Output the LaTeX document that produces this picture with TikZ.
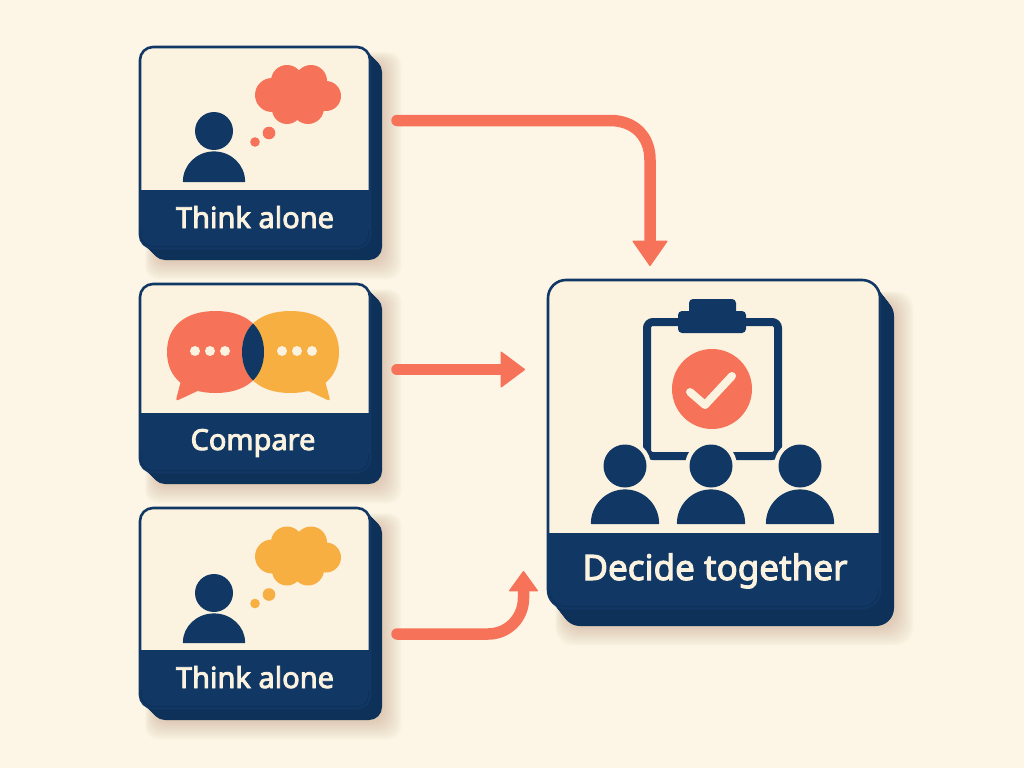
\documentclass[tikz,border=0pt]{standalone}
\usepackage{fontspec}
\setmainfont{Noto Sans}
\newfontfamily\labelfont{Noto Sans}[FakeBold=3]
\usetikzlibrary{arrows.meta,calc}
\definecolor{bgc}{HTML}{FDF5E6}
\definecolor{cream}{HTML}{FBF2E0}
\definecolor{navy}{HTML}{113864}
\definecolor{navyd}{HTML}{0E3159}
\definecolor{salmon}{HTML}{F6735A}
\definecolor{amber}{HTML}{F7AF42}
\definecolor{shadowc}{HTML}{B08F5C}
\tikzset{
  cardface/.style={draw=navy,line width=2.6pt,fill=cream,rounded corners=#1,inner sep=0pt,outer sep=0pt},
  cardlabel/.style={text=cream,inner sep=0pt,anchor=base},
  smalllabel/.style={cardlabel,font=\labelfont\fontsize{29}{33}\selectfont},
  biglabel/.style={cardlabel,font=\labelfont\fontsize{35}{40}\selectfont},
  flowarrow/.style={draw=salmon,line width=11.5pt,line cap=round},
  icon/.style={fill=navy,draw=navy,line width=1.2pt,line join=round},
}
% x1 y1 x2 y2 depth radius yfactor
\newcommand{\cardbody}[7]{%
  \foreach \s in {0,...,22}{
    \fill[shadowc,opacity=0.016,rounded corners=#6pt]
      ({#1+#5+4-\s*0.5},{#2+#5*#7+4-\s*0.5}) rectangle ({#3+#5+\s*0.9},{#4+#5*#7+\s*0.9});
  }
  \foreach \s in {1,...,#5}{
    \fill[navyd,rounded corners=#6pt] ({#1+\s},{#2+\s*#7}) rectangle ({#3+\s},{#4+\s*#7});
  }
}
% x1 y1 x2 y2 bandtop radius
\newcommand{\cardband}[6]{%
  \begin{scope}
    \clip[rounded corners=#6pt] (#1,#2) rectangle (#3,#4);
    \fill[navy] (#1,#5) rectangle (#3,#4);
  \end{scope}
  \draw[navyd,line width=1pt,rounded corners={#6-2}] ({#1+1.5},{#4-18}) -- ({#1+1.5},{#4-1.5}) -- ({#3-1.5},{#4-1.5}) -- ({#3-1.5},{#4-18});
}
% cx headY headR bodyTop bodyBottom bodyRx
\newcommand{\iconperson}[6]{%
  \fill[navy] (#1,#2) circle[radius=#3];
  \path[icon] ({#1-#6},#5)
    .. controls ({#1-#6},{#5-0.5523*(#5-#4)}) and ({#1-0.5523*#6},#4) .. (#1,#4)
    .. controls ({#1+0.5523*#6},#4) and ({#1+#6},{#5-0.5523*(#5-#4)}) .. ({#1+#6},#5) -- cycle;
}
% dy colour
\newcommand{\iconcloud}[2]{%
  \fill[#2] (272,95+#1) circle[radius=17] (287,81+#1) circle[radius=16] (311,81+#1) circle[radius=16]
    (326,96+#1) circle[radius=15] (308,108+#1) circle[radius=16] (287,109+#1) circle[radius=15] (300,95+#1) circle[radius=20];
  \fill[#2] (269,133+#1) circle[radius=6.3] (255,142+#1) circle[radius=4.8];
}
% rounded bubble outline: cx
\newcommand{\bubblepath}[1]{({#1-48.5},352)
  .. controls ({#1-48.5},{352-26}) and ({#1-30},311) .. (#1,311)
  .. controls ({#1+30},311) and ({#1+48.5},{352-26}) .. ({#1+48.5},352)
  .. controls ({#1+48.5},{352+26}) and ({#1+30},393) .. (#1,393)
  .. controls ({#1-30},393) and ({#1-48.5},{352+26}) .. ({#1-48.5},352) -- cycle}
\begin{document}
\begin{tikzpicture}[x=1pt,y=-1pt]
\useasboundingbox (0,0) rectangle (1024,768);
\fill[bgc] (0,0) rectangle (1024,768);

% ---- card 1
\cardbody{140}{47}{370}{248}{12}{13}{1}
\node[cardface=13pt,minimum width=230pt,minimum height=201pt] (c1) at (255,147.5) {};
\cardband{140}{47}{370}{248}{190}{13}
\iconcloud{0}{salmon}
\iconperson{214}{131}{19}{152}{181.5}{30.5}
\node[smalllabel] (l1) at (255,228) {Think alone};

% ---- card 2
\cardbody{140}{284}{370}{472}{12}{13}{1}
\node[cardface=13pt,minimum width=230pt,minimum height=188pt] (c2) at (255,378) {};
\cardband{140}{284}{370}{472}{413}{13}
\path[fill=salmon,draw=salmon,line width=2.5pt,line join=round] (183,378) -- (177.5,399) -- (201,388) -- cycle;
\path[fill=amber,draw=amber,line width=2.5pt,line join=round] (323,378) -- (328.5,399) -- (305,388) -- cycle;
\fill[salmon] \bubblepath{215.5};
\fill[amber] \bubblepath{290.5};
\begin{scope}
  \clip \bubblepath{215.5};
  \fill[navy] \bubblepath{290.5};
\end{scope}
\fill[cream] (195,351) circle[radius=5] (210,351) circle[radius=5] (225,351) circle[radius=5]
  (282,351) circle[radius=5] (297,351) circle[radius=5] (312,351) circle[radius=5];
\node[smalllabel] (l2) at (253,450) {Compare};

% ---- card 3
\cardbody{140}{508}{370}{708}{12}{13}{1}
\node[cardface=13pt,minimum width=230pt,minimum height=200pt] (c3) at (255,608) {};
\cardband{140}{508}{370}{708}{650}{13}
\iconcloud{461.5}{amber}
\iconperson{214}{593}{19}{614}{642.5}{30.5}
\node[smalllabel] (l3) at (255,688) {Think alone};

% ---- big card
\cardbody{548}{280}{880}{608}{14}{18}{1.286}
\node[cardface=18pt,minimum width=332pt,minimum height=328pt] (c4) at (714,444) {};
\cardband{548}{280}{880}{608}{533}{18}
% clipboard
\draw[navy,line width=8pt,rounded corners=6pt] (647,322) rectangle (778,456);
\fill[navy,rounded corners=4pt] (678,311) rectangle (746,333);
\fill[navy,rounded corners=4pt] (689,299) rectangle (736,316);
\fill[salmon] (712,389) circle[radius=40];
\draw[cream,line width=8pt,line cap=round,line join=round] (690,392) -- (705,405) -- (732,376);
% people
\fill[cream] (625,466) circle[radius=26] (711,466) circle[radius=26] (800,466) circle[radius=26];
\iconperson{625}{466}{21.5}{490}{523.5}{33.5}
\iconperson{711}{466}{21.5}{490}{523.5}{33.5}
\iconperson{800}{466}{21.5}{490}{523.5}{33.5}
\node[biglabel] (l4) at (715,580) {Decide together};

% ---- connectors
\coordinate (a1s) at (397,120.5);
\coordinate (a1e) at (650,266);
\coordinate (a2s) at (397,369.5);
\coordinate (a2e) at (525,369.5);
\coordinate (a3s) at (397,634);
\coordinate (a3e) at (523.5,571);
\draw[flowarrow,-{Triangle[length=26pt,width=36pt,line width=1.5pt,round]}]
  (a1s) -- (610,120.5) .. controls (634,120.5) and (650,136) .. (650,160) -- (a1e);
\draw[flowarrow,-{Triangle[length=25pt,width=37pt,line width=1.5pt,round]}]
  (a2s) -- (a2e);
\draw[flowarrow,-{Triangle[length=21pt,width=30pt,line width=1.5pt,round]}]
  (a3s) -- (488,634) .. controls (508,634) and (523.5,618) .. (523.5,598) -- (a3e);
\end{tikzpicture}
\end{document}
